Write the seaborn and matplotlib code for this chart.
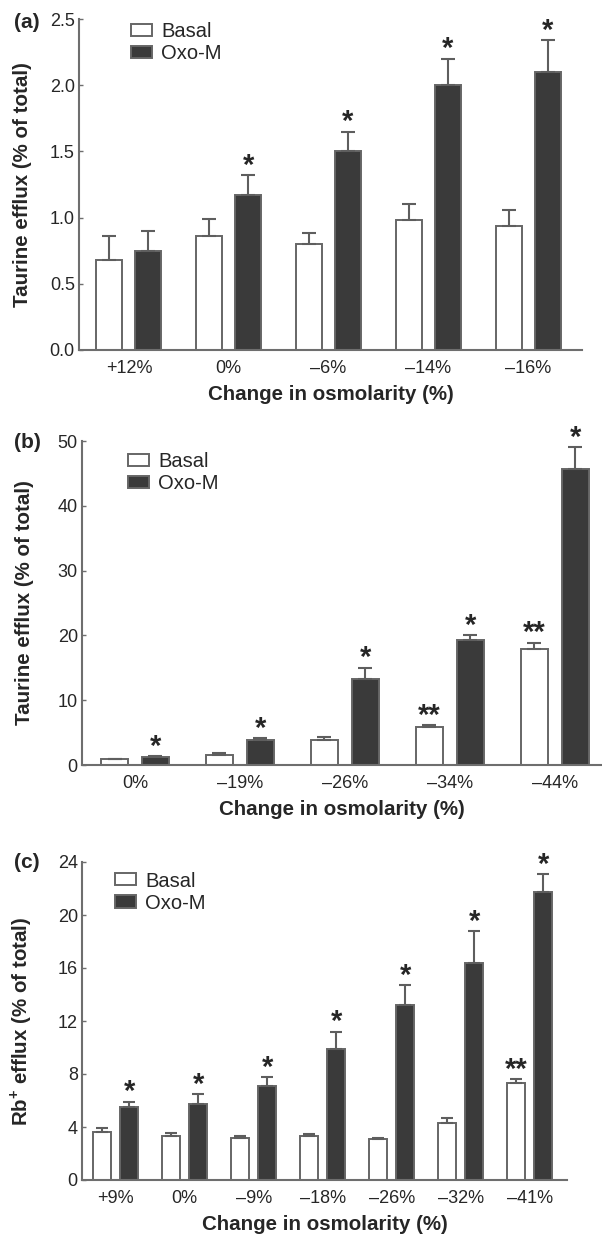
import matplotlib
matplotlib.use("Agg")
import matplotlib.pyplot as plt
import numpy as np
import pandas as pd
import seaborn as sns

# ── Data ───────────────────────────────────────────────────────────────────────
GROUPS = ["Basal", "Oxo-M"]

A_CATS      = ["+12%", "0%", "\u20136%", "\u201314%", "\u201316%"]
A_BASAL     = [0.68, 0.86, 0.80, 0.98, 0.94]
A_BASAL_ERR = [0.18, 0.13, 0.08, 0.12, 0.12]
A_OXO       = [0.75, 1.17, 1.50, 2.00, 2.10]
A_OXO_ERR   = [0.15, 0.15, 0.15, 0.20, 0.24]
A_BASAL_SIG = ["", "", "", "", ""]
A_OXO_SIG   = ["", "*", "*", "*", "*"]
A_YTICKS    = [0.0, 0.5, 1.0, 1.5, 2.0, 2.5]

B_CATS      = ["0%", "\u201319%", "\u201326%", "\u201334%", "\u201344%"]
B_BASAL     = [0.9, 1.6, 3.9, 5.8, 17.9]
B_BASAL_ERR = [0.1, 0.2, 0.4, 0.3, 1.0]
B_OXO       = [1.2, 3.8, 13.2, 19.3, 45.7]
B_OXO_ERR   = [0.2, 0.3, 1.8, 0.7, 3.4]
B_BASAL_SIG = ["", "", "", "**", "**"]
B_OXO_SIG   = ["*", "*", "*", "*", "*"]
B_YTICKS    = [0, 10, 20, 30, 40, 50]

C_CATS      = ["+9%", "0%", "\u20139%", "\u201318%", "\u201326%", "\u201332%", "\u201341%"]
C_BASAL     = [3.6, 3.3, 3.2, 3.3, 3.1, 4.3, 7.3]
C_BASAL_ERR = [0.3, 0.25, 0.1, 0.15, 0.1, 0.35, 0.3]
C_OXO       = [5.5, 5.7, 7.1, 9.9, 13.2, 16.4, 21.7]
C_OXO_ERR   = [0.4, 0.8, 0.65, 1.3, 1.5, 2.4, 1.4]
C_BASAL_SIG = ["", "", "", "", "", "", "**"]
C_OXO_SIG   = ["*", "*", "*", "*", "*", "*", "*"]
C_YTICKS    = [0, 4, 8, 12, 16, 20, 24]

# ── Style ──────────────────────────────────────────────────────────────────────
sns.set_style("ticks")
plt.rcParams["font.family"] = ["Liberation Sans", "DejaVu Sans"]
plt.rcParams["mathtext.fontset"] = "custom"
plt.rcParams["mathtext.rm"] = "Liberation Sans"
plt.rcParams["mathtext.bf"] = "Liberation Sans:bold"

DARK   = "#3a3a3a"
EDGE   = "#666666"
AXISC  = "#6e6e6e"
FIG_W, FIG_H = 602, 1234


def px_axes(fig, left, right, top, bottom):
    return fig.add_axes([left / FIG_W, 1 - bottom / FIG_H,
                         (right - left) / FIG_W, (bottom - top) / FIG_H])


def panel(ax, cats, basal, basal_err, oxo, oxo_err, basal_sig, oxo_sig,
          yticks, ylabel, xlim, legend_anchor, capsize, ylab_x):
    df = pd.DataFrame({
        "cond":  cats * 2,
        "group": ["Basal"] * len(cats) + ["Oxo-M"] * len(cats),
        "value": basal + oxo,
    })
    sns.barplot(data=df, x="cond", y="value", hue="group",
                order=cats, hue_order=GROUPS,
                palette={"Basal": "white", "Oxo-M": DARK},
                width=0.78, gap=0.33, errorbar=None,
                linewidth=1.4, edgecolor=EDGE, ax=ax)

    bar_conts = list(ax.containers)
    for cont, errs, sigs in zip(bar_conts, [basal_err, oxo_err],
                                [basal_sig, oxo_sig]):
        xs = [p.get_x() + p.get_width() / 2 for p in cont.patches]
        hs = [p.get_height() for p in cont.patches]
        ax.errorbar(xs, hs, yerr=[np.zeros(len(errs)), errs], fmt="none",
                    ecolor="#5e5e5e", elinewidth=1.5, capsize=capsize,
                    capthick=1.5, zorder=1)
        for x, h, e, s in zip(xs, hs, errs, sigs):
            if s:
                ax.annotate(s, (x, h + e), xytext=(0, 1),
                            textcoords="offset points", ha="center",
                            va="baseline", fontsize=21, fontweight="bold")

    ax.legend(bar_conts, GROUPS, loc="upper left",
              bbox_to_anchor=legend_anchor, frameon=False, fontsize=14.5,
              borderpad=0, borderaxespad=0, handlelength=1.05,
              handleheight=0.55, handletextpad=0.45, labelspacing=0.15)

    ax.set_xlim(*xlim)
    ax.set_ylim(yticks[0], yticks[-1])
    ax.set_yticks(yticks)
    ax.set_yticklabels([f"{t:.1f}" if isinstance(t, float) else str(t)
                        for t in yticks])
    sns.despine(ax=ax)
    for side in ["left", "bottom"]:
        ax.spines[side].set_color(AXISC)
        ax.spines[side].set_linewidth(1.5)
    ax.tick_params(axis="x", length=0, pad=7, labelsize=13)
    ax.tick_params(axis="y", direction="in", length=3, width=1,
                   color=AXISC, pad=3, labelsize=13)
    ax.set_xlabel("Change in osmolarity (%)", fontsize=14.8,
                  fontweight="bold", labelpad=6)
    ax.set_ylabel(ylabel, fontsize=14.8, fontweight="bold")
    ax.yaxis.set_label_coords(ylab_x, 0.5)


fig = plt.figure(figsize=(FIG_W / 100, FIG_H / 100), dpi=100)
fig.patch.set_facecolor("white")

ax_a = px_axes(fig, 79, 582, 19, 350)
panel(ax_a, A_CATS, A_BASAL, A_BASAL_ERR, A_OXO, A_OXO_ERR,
      A_BASAL_SIG, A_OXO_SIG, A_YTICKS, "Taurine efflux (% of total)",
      (-0.5, 4.54), (0.103, 0.99), 5, -0.094)

ax_b = px_axes(fig, 82, 602, 441, 765)
panel(ax_b, B_CATS, B_BASAL, B_BASAL_ERR, B_OXO, B_OXO_ERR,
      B_BASAL_SIG, B_OXO_SIG, B_YTICKS, "Taurine efflux (% of total)",
      (-0.505, 4.45), (0.088, 0.965), 5, -0.093)

ax_c = px_axes(fig, 82, 567, 862, 1180)
panel(ax_c, C_CATS, C_BASAL, C_BASAL_ERR, C_OXO, C_OXO_ERR,
      C_BASAL_SIG, C_OXO_SIG, C_YTICKS, r"Rb$^{\mathbf{+}}$ efflux (% of total)",
      (-0.49, 6.54), (0.068, 0.97), 4, -0.098)

for label, y in [("(a)", 22), ("(b)", 443), ("(c)", 862)]:
    fig.text(14 / FIG_W, 1 - y / FIG_H, label, fontsize=15,
             fontweight="bold", ha="left", va="center")

fig.savefig("out.png", dpi=100)
